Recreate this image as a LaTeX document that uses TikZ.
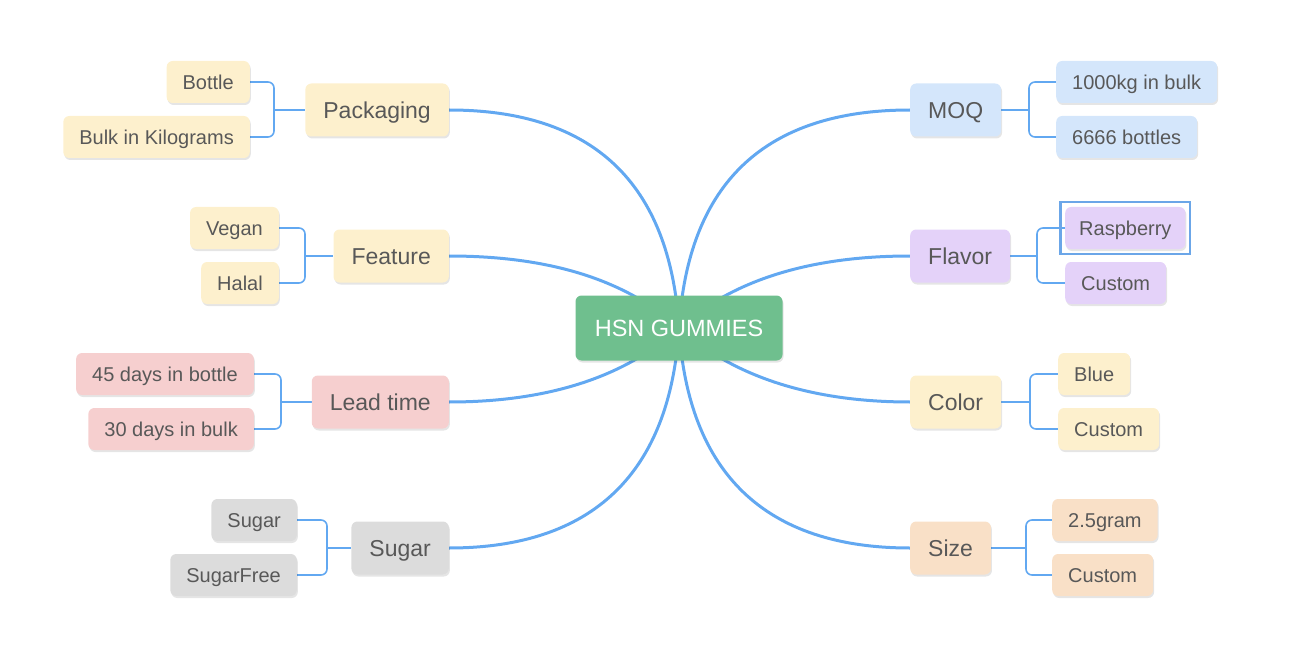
\documentclass[tikz,border=0pt]{standalone}
\usepackage{fontspec}
\setmainfont{Liberation Sans}
\usetikzlibrary{shadows,fit}
\definecolor{ln}{HTML}{62A8F1}
\definecolor{txt}{HTML}{585858}
\definecolor{cyel}{HTML}{FDF0CD}
\definecolor{cblu}{HTML}{D4E6FB}
\definecolor{cpur}{HTML}{E4D2F9}
\definecolor{cred}{HTML}{F6CFCF}
\definecolor{cgry}{HTML}{DCDCDC}
\definecolor{corg}{HTML}{F9E0C7}
\definecolor{cgrn}{HTML}{6FBF8E}
\definecolor{csel}{HTML}{6BA6E8}
\pgfdeclarelayer{bg}
\pgfsetlayers{bg,main}
\tikzset{
  box/.style={rounded corners=6, text=txt, inner ysep=0pt, text depth=0pt,
    drop shadow={shadow xshift=1pt, shadow yshift=-2pt, opacity=0.10, fill=black}},
  leaf/.style={box, minimum height=42, inner xsep=16, text height=14.3pt, font=\fontsize{20}{22}\selectfont},
  cat/.style={box, minimum height=53, inner xsep=18, text height=16.5pt, font=\fontsize{23}{25}\selectfont},
  trunk/.style={draw=ln, line width=3pt},
  twig/.style={draw=ln, line width=1.6pt, rounded corners=6},
}
\begin{document}
\begin{tikzpicture}[x=1pt,y=-1pt]
\useasboundingbox (0,0) rectangle (1294,666);
% center
\node[box, fill=cgrn, text=white, minimum width=207, minimum height=65, text height=16.8pt, font=\fontsize{23.5}{26}\selectfont] (c) at (679,328) {HSN GUMMIES};
% left categories
\node[cat, fill=cyel, anchor=east] (pack) at (449,110) {Packaging};
\node[cat, fill=cyel, anchor=east] (feat) at (449,256) {Feature};
\node[cat, fill=cred, anchor=east] (lead) at (449,402) {Lead time};
\node[cat, fill=cgry, anchor=east] (sug) at (449,548) {Sugar};
% right categories
\node[cat, fill=cblu, anchor=west] (moq) at (910,110) {MOQ};
\node[cat, fill=cpur, anchor=west] (flav) at (910,256) {Flavor};
\node[cat, fill=cyel, anchor=west] (col) at (910,402) {Color};
\node[cat, fill=corg, anchor=west] (size) at (910,548) {Size};
% left leaves
\node[leaf, fill=cyel, anchor=east] (bottle) at (250,82) {Bottle};
\node[leaf, fill=cyel, anchor=east] (bulk) at (250,137) {Bulk in Kilograms};
\node[leaf, fill=cyel, anchor=east] (vegan) at (279,228) {Vegan};
\node[leaf, fill=cyel, anchor=east] (halal) at (279,283) {Halal};
\node[leaf, fill=cred, anchor=east] (d45) at (254,374) {45 days in bottle};
\node[leaf, fill=cred, anchor=east] (d30) at (254,429) {30 days in bulk};
\node[leaf, fill=cgry, anchor=east] (sugl) at (297,520) {Sugar};
\node[leaf, fill=cgry, anchor=east] (sfree) at (297,575) {SugarFree};
% right leaves
\node[leaf, fill=cblu, anchor=west] (kg) at (1056,82) {1000kg in bulk};
\node[leaf, fill=cblu, anchor=west] (bot) at (1056,137) {6666 bottles};
\node[leaf, fill=cpur, anchor=west, inner xsep=14] (rasp) at (1065,228) {Raspberry};
\node[leaf, fill=cpur, anchor=west] (fcus) at (1065,283) {Custom};
\node[leaf, fill=cyel, anchor=west] (blue) at (1058,374) {Blue};
\node[leaf, fill=cyel, anchor=west] (ccus) at (1058,429) {Custom};
\node[leaf, fill=corg, anchor=west] (g25) at (1052,520) {2.5gram};
\node[leaf, fill=corg, anchor=west] (scus) at (1052,575) {Custom};
% selection frame
\node[draw=csel, line width=2.2pt, inner sep=4.5pt, fit=(rasp)] (sel) {};
% junction points
\coordinate (jp) at (274,110);
\coordinate (jf) at (305,256);
\coordinate (jl) at (281,402);
\coordinate (js) at (327,548);
\coordinate (jm) at (1029,110);
\coordinate (jv) at (1037,256);
\coordinate (jc) at (1030,402);
\coordinate (jz) at (1026,548);
\begin{pgfonlayer}{bg}
% trunks
\draw[trunk] (c.center) .. controls (670,183) and (593,110) .. (pack.east);
\draw[trunk] (c.center) .. controls (626,280) and (550,256) .. (feat.east);
\draw[trunk] (c.center) .. controls (626,376) and (550,402) .. (lead.east);
\draw[trunk] (c.center) .. controls (670,473) and (593,548) .. (sug.east);
\draw[trunk] (c.center) .. controls (688,183) and (765,110) .. (moq.west);
\draw[trunk] (c.center) .. controls (733,280) and (810,256) .. (flav.west);
\draw[trunk] (c.center) .. controls (733,376) and (810,402) .. (col.west);
\draw[trunk] (c.center) .. controls (688,473) and (765,548) .. (size.west);
% twigs
\draw[twig] (bottle.east) -| (jp) |- (bulk.east);
\draw[twig] (jp) -- (pack.west);
\draw[twig] (vegan.east) -| (jf) |- (halal.east);
\draw[twig] (jf) -- (feat.west);
\draw[twig] (d45.east) -| (jl) |- (d30.east);
\draw[twig] (jl) -- (lead.west);
\draw[twig] (sugl.east) -| (js) |- (sfree.east);
\draw[twig] (js) -- (sug.west);
\draw[twig] (kg.west) -| (jm) |- (bot.west);
\draw[twig] (jm) -- (moq.east);
\draw[twig] (rasp.west) -| (jv) |- (fcus.west);
\draw[twig] (jv) -- (flav.east);
\draw[twig] (blue.west) -| (jc) |- (ccus.west);
\draw[twig] (jc) -- (col.east);
\draw[twig] (g25.west) -| (jz) |- (scus.west);
\draw[twig] (jz) -- (size.east);
\end{pgfonlayer}
\end{tikzpicture}
\end{document}
